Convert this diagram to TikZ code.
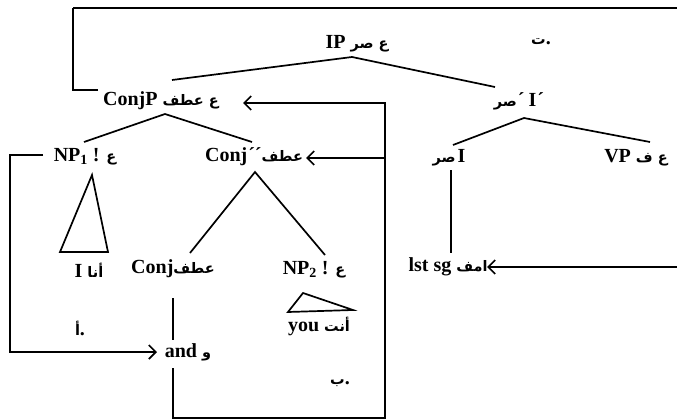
\documentclass[tikz,border=0pt]{standalone}
\usepackage{fontspec}
\setmainfont{Liberation Serif}
\newfontfamily\arabicfont[Script=Arabic]{DejaVu Sans}
\TeXXeTstate=1
\usetikzlibrary{arrows.meta}
\newcommand{\arb}[1]{{\arabicfont\bfseries\fontsize{14.5}{16}\selectfont\beginR #1\endR}}
\newcommand{\arl}[1]{{\arabicfont\bfseries\fontsize{14.5}{16}\selectfont #1}}
\begin{document}
\begin{tikzpicture}[x=1pt, y=-1pt,
  lbl/.style={font=\bfseries\fontsize{20}{22}\selectfont, inner sep=0pt},
  ln/.style={line width=1.7pt, line join=miter},
  arr/.style={ln, -{Straight Barb[length=7pt,width=14pt,line width=1.7pt]}}]
\useasboundingbox (0,0) rectangle (677,420);
% labels
\node[lbl] (IP)    at (357,44)  {IP \arb{ع صر}};
\node[lbl] (lt)    at (541,42)  {\arl{ت}.};
\node[lbl] (ConjP) at (161,101) {ConjP \arb{ع عطف}};
\node[lbl] (Ibar)  at (519,101) {\arb{صر}\kern1pt´\kern4pt I\kern1pt´};
\node[lbl] (NPa)   at (85,157)  {NP\textsubscript{1} ! \arb{ع}};
\node[lbl] (Conjb) at (254,157) {Conj\kern1pt´´\arb{عطف}};
\node[lbl] (I)     at (449,158) {\arb{صر}\kern2pt I};
\node[lbl] (VP)    at (636,158) {VP \arb{ع ف}};
\node[lbl] (Iana)  at (89,270)  {I \arb{أنا}};
\node[lbl] (Conj)  at (173,269) {Conj\arb{عطف}};
\node[lbl] (NPb)   at (314,270) {NP\textsubscript{2} ! \arb{ع}};
\node[lbl] (sg)    at (448,267) {lst sg \arb{امف}};
\node[lbl] (you)   at (319,326) {you \arb{أنت}};
\node[lbl] (la)    at (80,328)  {\arl{أ}.};
\node[lbl] (and)   at (188,352) {and \arb{و}};
\node[lbl] (lb)    at (340,383) {\arl{ب}.};
% tree coordinates
\coordinate (ipA) at (352,57);  \coordinate (ipL) at (172,80);  \coordinate (ipR) at (495,87);
\coordinate (cpA) at (165,114); \coordinate (cpL) at (84,142);  \coordinate (cpR) at (252,142);
\coordinate (ibA) at (524,118); \coordinate (ibL) at (453,145); \coordinate (ibR) at (650,142);
\coordinate (t1A) at (92,175);  \coordinate (t1L) at (60,252);  \coordinate (t1R) at (108,252);
\coordinate (cbA) at (255,172); \coordinate (cbL) at (190,253); \coordinate (cbR) at (325,255);
\coordinate (iT) at (451,170);  \coordinate (iB) at (451,253);
\coordinate (cjT) at (173,298); \coordinate (cjB) at (173,340);
\coordinate (t2A) at (303,293); \coordinate (t2L) at (288,312); \coordinate (t2R) at (353,310);
% tree lines
\draw[ln] (ipL) -- (ipA) -- (ipR);
\draw[ln] (cpL) -- (cpA) -- (cpR);
\draw[ln] (ibL) -- (ibA) -- (ibR);
\draw[ln] (t1A) -- (t1L) -- (t1R) -- cycle;
\draw[ln] (cbL) -- (cbA) -- (cbR);
\draw[ln] (iT) -- (iB);
\draw[ln] (cjT) -- (cjB);
\draw[ln] (t2A) -- (t2L) -- (t2R) -- cycle;
% movement connectors
\coordinate (topL) at (98,90);
\coordinate (topC) at (73,90);
\coordinate (topU) at (73,8);
\coordinate (topR) at (677,8);
\draw[ln] (topL) -- (topC) -- (topU);
\draw[line width=2.4pt] (topU) -- (topR);
\coordinate (andD) at (173,368);
\coordinate (botL) at (173,418);
\coordinate (botR) at (385,418);
\coordinate (vTop) at (385,103);
\coordinate (cpTip) at (243,103);
\draw[arr] (andD) -- (botL) -- (botR) -- (vTop) -- (cpTip);
\coordinate (vMid) at (385,158);
\coordinate (cbTip) at (306,158);
\draw[arr] (vMid) -- (cbTip);
\coordinate (lbT) at (43,155);
\coordinate (lbC) at (10,155);
\coordinate (lbB) at (10,352);
\coordinate (andTip) at (157,352);
\draw[arr] (lbT) -- (lbC) -- (lbB) -- (andTip);
\coordinate (sgR) at (677,267);
\coordinate (sgTip) at (487,267);
\draw[arr] (sgR) -- (sgTip);
\end{tikzpicture}
\end{document}
